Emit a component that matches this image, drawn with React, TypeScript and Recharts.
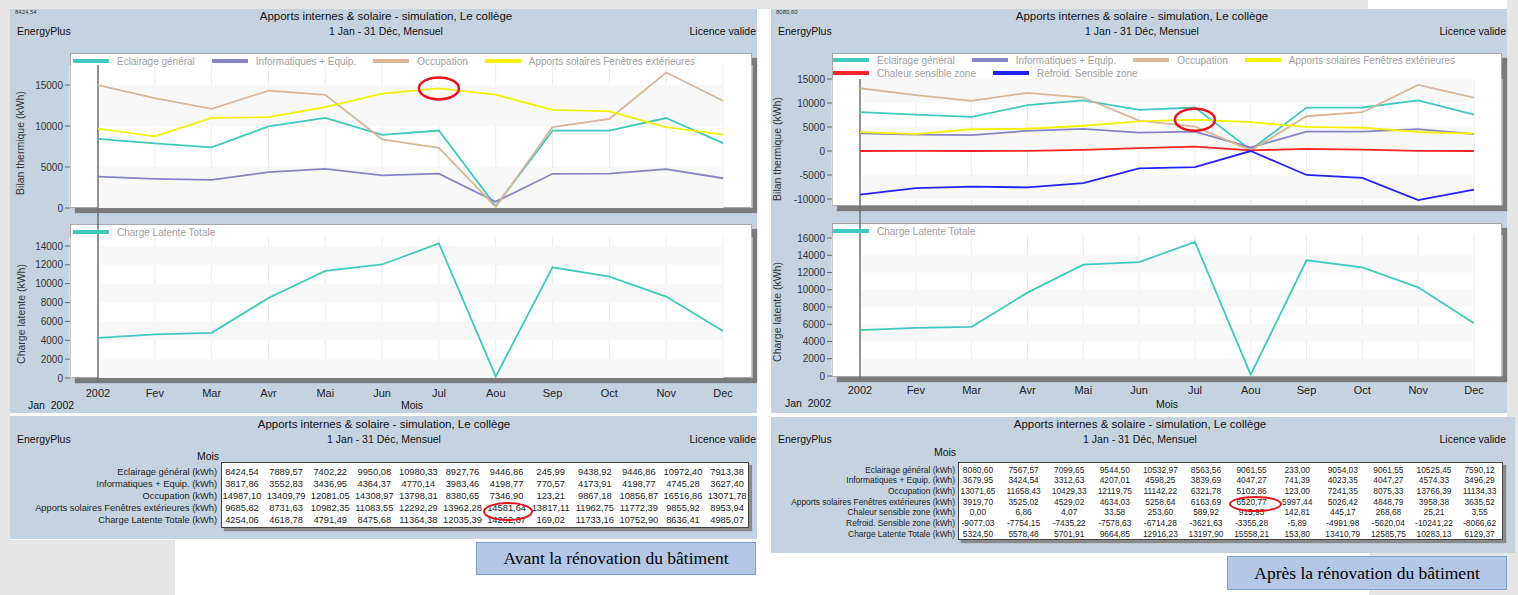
import React from 'react';
import { LineChart, Line, XAxis, YAxis, CartesianGrid, ReferenceArea, ReferenceLine, ReferenceDot } from 'recharts';

const months = ['2002', 'Fev', 'Mar', 'Avr', 'Mai', 'Jun', 'Jul', 'Aou', 'Sep', 'Oct', 'Nov', 'Dec'];

// avant la rénovation
const avEclairage = [8424.54, 7889.57, 7402.22, 9950.08, 10980.33, 8927.76, 9446.86, 245.99, 9438.92, 9446.86, 10972.4, 7913.38];
const avInformatique = [3817.86, 3552.83, 3436.95, 4364.37, 4770.14, 3983.46, 4198.77, 770.57, 4173.91, 4198.77, 4745.28, 3627.4];
const avOccupation = [14987.1, 13409.79, 12081.05, 14308.97, 13798.31, 8380.65, 7346.9, 123.21, 9867.18, 10856.87, 16516.86, 13071.78];
const avSolaire = [9685.82, 8731.63, 10982.35, 11083.55, 12292.29, 13962.28, 14581.64, 13817.11, 11962.75, 11772.39, 9855.92, 8953.94];
const avLatente = [4254.06, 4618.78, 4791.49, 8475.68, 11364.38, 12035.39, 14262.67, 169.02, 11733.16, 10752.9, 8636.41, 4985.07];

// après la rénovation
const apEclairage = [8080.6, 7567.57, 7099.65, 9544.5, 10532.97, 8563.56, 9061.55, 233.0, 9054.03, 9061.55, 10525.45, 7590.12];
const apInformatique = [3679.95, 3424.54, 3312.63, 4207.01, 4598.25, 3839.69, 4047.27, 741.39, 4023.35, 4047.27, 4574.33, 3496.29];
const apOccupation = [13071.65, 11658.43, 10429.33, 12119.75, 11142.22, 6321.78, 5102.86, 123.0, 7241.35, 8075.33, 13766.39, 11134.33];
const apSolaire = [3919.7, 3525.02, 4529.02, 4634.03, 5258.64, 6163.69, 6520.77, 5997.44, 5026.42, 4848.79, 3958.38, 3635.52];
const apChaleur = [0.0, 6.86, 4.07, 33.58, 253.6, 589.92, 915.93, 142.81, 445.17, 268.68, 25.21, 3.55];
const apRefroid = [-9077.03, -7754.15, -7435.22, -7578.63, -6714.28, -3621.63, -3355.28, -5.89, -4991.98, -5620.04, -10241.22, -8066.62];
const apLatente = [5324.5, 5578.48, 5701.91, 9664.85, 12916.23, 13197.9, 15558.21, 153.8, 13410.79, 12585.75, 10283.13, 6129.37];

const ticksAvBilan = [0, 5000, 10000, 15000];
const ticksAvLatente = [0, 2000, 4000, 6000, 8000, 10000, 12000, 14000];
const ticksApBilan = [-10000, -5000, 0, 5000, 10000, 15000];
const ticksApLatente = [0, 2000, 4000, 6000, 8000, 10000, 12000, 14000, 16000];

const FONT = '"Liberation Sans", Arial, sans-serif';
const PANEL = '#c5d3e0';

const C_ECL = '#3fc9c0';
const C_INFO = '#8784c6';
const C_OCC = '#dab692';
const C_SOL = '#f2f200';
const C_CHAL = '#ff2424';
const C_REF = '#2222ff';

interface Serie { key: string; name: string; color: string; values: number[] }

const avBilanSeries: Serie[] = [
  { key: 'ecl', name: 'Eclairage général', color: C_ECL, values: avEclairage },
  { key: 'info', name: 'Informatiques + Equip.', color: C_INFO, values: avInformatique },
  { key: 'occ', name: 'Occupation', color: C_OCC, values: avOccupation },
  { key: 'sol', name: 'Apports solaires Fenêtres extérieures', color: C_SOL, values: avSolaire },
];
const avLatSeries: Serie[] = [{ key: 'lat', name: 'Charge Latente Totale', color: C_ECL, values: avLatente }];

const apBilanSeries: Serie[] = [
  { key: 'ecl', name: 'Eclairage général', color: C_ECL, values: apEclairage },
  { key: 'info', name: 'Informatiques + Equip.', color: C_INFO, values: apInformatique },
  { key: 'occ', name: 'Occupation', color: C_OCC, values: apOccupation },
  { key: 'sol', name: 'Apports solaires Fenêtres extérieures', color: C_SOL, values: apSolaire },
  { key: 'chal', name: 'Chaleur sensible zone', color: C_CHAL, values: apChaleur },
  { key: 'ref', name: 'Refroid. Sensible zone', color: C_REF, values: apRefroid },
];
const apLatSeries: Serie[] = [{ key: 'lat', name: 'Charge Latente Totale', color: C_ECL, values: apLatente }];

const fmt = (v: number) => v.toFixed(2).replace('.', ',');

const buildRows = (series: Serie[]) =>
  months.map((m, i) => {
    const row: Record<string, any> = { mois: m };
    series.forEach((s) => { row[s.key] = s.values[i]; });
    return row;
  });

const abs = (left: number, top: number, extra: React.CSSProperties = {}): React.CSSProperties => ({
  position: 'absolute', left, top, ...extra,
});

const Txt: React.FC<{ x: number; y: number; size?: number; align?: 'left' | 'center' | 'right'; w?: number; children: React.ReactNode; color?: string }> = ({ x, y, size = 11, align = 'left', w = 300, children, color = '#111' }) => {
  const left = align === 'left' ? x : align === 'center' ? x - w / 2 : x - w;
  return (
    <div style={abs(left, y - size * 0.6, { width: w, textAlign: align, fontSize: size, lineHeight: `${size * 1.2}px`, color, whiteSpace: 'nowrap' })}>
      {children}
    </div>
  );
};

const VTitle: React.FC<{ cx: number; cy: number; text: string }> = ({ cx, cy, text }) => (
  <div style={abs(cx - 80, cy - 7, { width: 160, height: 14, lineHeight: '14px', textAlign: 'center', fontSize: 10.5, color: '#333', transform: 'rotate(-90deg)', whiteSpace: 'nowrap' })}>
    {text}
  </div>
);

const Box: React.FC<{ l: number; t: number; w: number; h: number }> = ({ l, t, w, h }) => (
  <div style={abs(l, t, { width: w, height: h, background: '#fff', border: '1px solid #a8a8a8', boxSizing: 'border-box', boxShadow: '5px 5px 1px #7b7b7b' })} />
);

const LegendRow: React.FC<{ x: number; y: number; items: Serie[] }> = ({ x, y, items }) => (
  <div style={abs(x, y - 6, { display: 'flex', alignItems: 'center', height: 12, whiteSpace: 'nowrap' })}>
    {items.map((s) => (
      <React.Fragment key={s.key}>
        <span style={{ display: 'inline-block', width: 36, height: 4, background: s.color, marginRight: 8 }} />
        <span style={{ fontSize: 10, color: '#a0a0a0', marginRight: 17 }}>{s.name}</span>
      </React.Fragment>
    ))}
  </div>
);

interface PlotProps {
  series: Serie[];
  x: number; y: number; width: number; height: number;
  margin: { top: number; right: number; bottom: number; left: number };
  domain: [number, number];
  ticks: number[];
  showX: boolean;
  pad: { left: number; right: number };
  cursor: [number, number];
  tickGap?: number;
  mark?: { x: string; y: number };
}

const Plot: React.FC<PlotProps> = ({ series, x, y, width, height, margin, domain, ticks, showX, pad, cursor, tickGap = 5, mark }) => {
  const rows = buildRows(series);
  const step = ticks[1] - ticks[0];
  const bands = ticks.slice(0, -1).filter((t) => Math.round(t / step) % 2 === 0).map((t) => [t, t + step]);
  return (
    <div style={abs(x, y)}>
      <LineChart width={width} height={height} data={rows} margin={margin}>
        {bands.map(([a, b]) => (
          <ReferenceArea key={a} y1={a} y2={b} fill="#f8f8f8" fillOpacity={1} stroke="none" ifOverflow="hidden" />
        ))}
        <CartesianGrid horizontal={false} stroke="#ececec" />
        <XAxis dataKey="mois" hide={!showX} padding={pad} axisLine={false} tickLine={false} tickSize={6} tickMargin={tickGap}
          tick={{ fontSize: 11, fill: '#222', fontFamily: FONT }} interval={0} height={30} />
        <YAxis type="number" width={60} domain={domain} ticks={ticks} allowDataOverflow interval={0} axisLine={false}
          tickSize={5} tickMargin={2} tickLine={{ stroke: '#666' }} tick={{ fontSize: 10, fill: '#333', fontFamily: FONT }} />
        <ReferenceLine segment={[{ x: '2002', y: cursor[0] }, { x: '2002', y: cursor[1] }]} stroke="#707070" strokeWidth={1.5} ifOverflow="visible" />
        {series.map((s) => (
          <Line key={s.key} type="linear" dataKey={s.key} name={s.name} stroke={s.color} strokeWidth={1.8}
            dot={false} activeDot={false} isAnimationActive={false} />
        ))}
        {mark && (
          <ReferenceDot x={mark.x} y={mark.y} ifOverflow="visible"
            shape={(p: any) => <ellipse cx={p.cx} cy={p.cy} rx={20} ry={11} fill="none" stroke="#e8141c" strokeWidth={2.5} />} />
        )}
      </LineChart>
    </div>
  );
};

interface TableRow { label: string; values: number[] }

const avTable: TableRow[] = [
  { label: 'Eclairage général (kWh)', values: avEclairage },
  { label: 'Informatiques + Equip. (kWh)', values: avInformatique },
  { label: 'Occupation (kWh)', values: avOccupation },
  { label: 'Apports solaires Fenêtres extérieures (kWh)', values: avSolaire },
  { label: 'Charge Latente Totale (kWh)', values: avLatente },
];
const apTable: TableRow[] = [
  { label: 'Eclairage général (kWh)', values: apEclairage },
  { label: 'Informatiques + Equip. (kWh)', values: apInformatique },
  { label: 'Occupation (kWh)', values: apOccupation },
  { label: 'Apports solaires Fenêtres extérieures (kWh)', values: apSolaire },
  { label: 'Chaleur sensible zone (kWh)', values: apChaleur },
  { label: 'Refroid. Sensible zone (kWh)', values: apRefroid },
  { label: 'Charge Latente Totale (kWh)', values: apLatente },
];

const DataTable: React.FC<{ rows: TableRow[]; box: [number, number, number, number]; col0: number; colW: number; row0: number; rowH: number; size: number; labelRight: number }> = ({ rows, box, col0, colW, row0, rowH, size, labelRight }) => (
  <>
    <div style={abs(box[0], box[1], { width: box[2], height: box[3], background: '#fff', border: '1px solid #444', boxSizing: 'border-box', boxShadow: '3px 3px 1px #8a8a8a' })} />
    {rows.map((r, i) => (
      <React.Fragment key={r.label}>
        <div style={abs(labelRight - 260, row0 + i * rowH - rowH / 2, { width: 260, textAlign: 'right', fontSize: size, lineHeight: `${rowH}px`, color: '#222', whiteSpace: 'nowrap' })}>{r.label}</div>
        {r.values.map((v, j) => (
          <div key={j} style={abs(col0 + j * colW - colW / 2, row0 + i * rowH - rowH / 2, { width: colW, textAlign: 'center', fontSize: size, lineHeight: `${rowH}px`, color: '#222', whiteSpace: 'nowrap' })}>{fmt(v)}</div>
        ))}
      </React.Fragment>
    ))}
  </>
);

const Ellipse: React.FC<{ cx: number; cy: number; w: number; h: number }> = ({ cx, cy, w, h }) => (
  <div style={abs(cx - w / 2, cy - h / 2, { width: w, height: h, border: '2.5px solid #e8141c', borderRadius: '50%', boxSizing: 'border-box' })} />
);

const Header: React.FC<{ x0: number; cx: number; right: number; y: number; small?: string }> = ({ x0, cx, right, y, small }) => (
  <>
    {small && <Txt x={x0 + 5} y={y - 4} size={6} color="#333">{small}</Txt>}
    <Txt x={cx} y={y} align="center" w={400} size={11.5}>Apports internes &amp; solaire - simulation, Le collège</Txt>
    <Txt x={x0 + 7} y={y + 14} size={10.5}>EnergyPlus</Txt>
    <Txt x={cx} y={y + 14} align="center" w={300} size={10.5}>1 Jan - 31 Déc, Mensuel</Txt>
    <Txt x={right} y={y + 14} align="right" w={200} size={10.5}>Licence valide</Txt>
  </>
);

const NoteBox: React.FC<{ l: number; t: number; w: number; h: number; text: string }> = ({ l, t, w, h, text }) => (
  <div style={abs(l, t, { width: w, height: h, background: '#b4c7e7', border: '1px solid #7f9fd3', boxSizing: 'border-box', textAlign: 'center', lineHeight: `${h - 2}px`, fontFamily: '"Liberation Serif", "Times New Roman", serif', fontSize: 17.5, color: '#000' })}>
    {text}
  </div>
);

export default function App() {
  return (
    <div style={{ position: 'absolute', left: 0, top: 0, width: 1518, height: 595, background: '#fff', overflow: 'hidden', fontFamily: FONT }}>
      {/* fond gris */}
      <div style={abs(0, 0, { width: 1368, height: 9, background: '#e6e6e6' })} />
      <div style={abs(0, 0, { width: 10, height: 595, background: '#e6e6e6' })} />
      <div style={abs(0, 540, { width: 175, height: 55, background: '#e6e6e6' })} />
      <div style={abs(1507, 0, { width: 11, height: 595, background: '#e6e6e6' })} />
      <div style={abs(1369, 553, { width: 149, height: 42, background: '#e6e6e6' })} />

      {/* ===== Avant ===== */}
      <div style={abs(10, 9, { width: 747, height: 404, background: PANEL })} />
      <div style={abs(10, 416, { width: 747, height: 123, background: PANEL })} />
      <Header x0={10} cx={386} right={756} y={17} small={fmt(avEclairage[0])} />

      <Box l={70} t={53} w={682} h={155} />
      <Plot series={avBilanSeries} x={10} y={53} width={745} height={171}
        margin={{ top: 12, right: 3, bottom: 16, left: 0 }} domain={[0, 17440]} ticks={ticksAvBilan}
        showX={false} pad={{ left: 28, right: 29 }} cursor={[17440, -1950]} mark={{ x: 'Jul', y: avSolaire[6] }} />
      <LegendRow x={73} y={61} items={avBilanSeries} />
      <VTitle cx={20} cy={143} text="Bilan thermique (kWh)" />

      <Box l={70} t={224} w={682} h={154} />
      <Plot series={avLatSeries} x={10} y={224} width={745} height={184}
        margin={{ top: 13, right: 3, bottom: 0, left: 0 }} domain={[0, 14950]} ticks={ticksAvLatente}
        showX pad={{ left: 28, right: 29 }} cursor={[16330, -530]} tickGap={5} />
      <LegendRow x={73} y={232} items={avLatSeries} />
      <VTitle cx={21} cy={314} text="Charge latente (kWh)" />
      <Txt x={51} y={405} align="center" w={80} size={10.5}>Jan&nbsp;&nbsp;2002</Txt>
      <Txt x={412} y={405} align="center" w={80} size={10.5}>Mois</Txt>

      <Header x0={10} cx={384} right={756} y={425} />
      <Txt x={208} y={456} align="center" w={60} size={10.5}>Mois</Txt>
      <DataTable rows={avTable} box={[221, 462, 528, 66]} col0={242} colW={44.1} row0={472} rowH={12} size={9.3} labelRight={217} />
      <Ellipse cx={508} cy={511} w={50} h={19} />
      <NoteBox l={476} t={542} w={280} h={33} text="Avant la rénovation du bâtiment" />

      {/* ===== Après ===== */}
      <div style={abs(771, 9, { width: 736, height: 404, background: PANEL })} />
      <div style={abs(771, 417, { width: 744, height: 136, background: PANEL })} />
      <Header x0={771} cx={1142} right={1506} y={17} small={fmt(apEclairage[0])} />

      <Box l={832} t={53} w={670} h={153} />
      <Plot series={apBilanSeries} x={772} y={53} width={733} height={170}
        margin={{ top: 26, right: 3, bottom: 18, left: 0 }} domain={[-11250, 15000]} ticks={ticksApBilan}
        showX={false} pad={{ left: 28, right: 28 }} cursor={[15000, -15000]} mark={{ x: 'Jul', y: apSolaire[6] }} />
      <LegendRow x={833} y={60} items={apBilanSeries.slice(0, 4)} />
      <LegendRow x={833} y={73} items={apBilanSeries.slice(4)} />
      <VTitle cx={777} cy={149} text="Bilan thermique (kWh)" />

      <Box l={832} t={223} w={670} h={154} />
      <Plot series={apLatSeries} x={772} y={223} width={733} height={183}
        margin={{ top: 12, right: 3, bottom: 0, left: 0 }} domain={[0, 16350]} ticks={ticksApLatente}
        showX pad={{ left: 28, right: 28 }} cursor={[17740, -500]} tickGap={4} />
      <LegendRow x={833} y={231} items={apLatSeries} />
      <VTitle cx={777} cy={312} text="Charge latente (kWh)" />
      <Txt x={808} y={403} align="center" w={80} size={10.5}>Jan&nbsp;&nbsp;2002</Txt>
      <Txt x={1167} y={404} align="center" w={80} size={10.5}>Mois</Txt>

      <Header x0={771} cx={1140} right={1506} y={425} />
      <Txt x={945} y={452} align="center" w={60} size={10.5}>Mois</Txt>
      <DataTable rows={apTable} box={[958, 462, 545, 78]} col0={978} colW={45.6} row0={470} rowH={10.7} size={8.4} labelRight={955} />
      <Ellipse cx={1255} cy={504} w={53} h={16} />
      <NoteBox l={1227} t={556} w={280} h={34} text="Après la rénovation du bâtiment" />
    </div>
  );
}
